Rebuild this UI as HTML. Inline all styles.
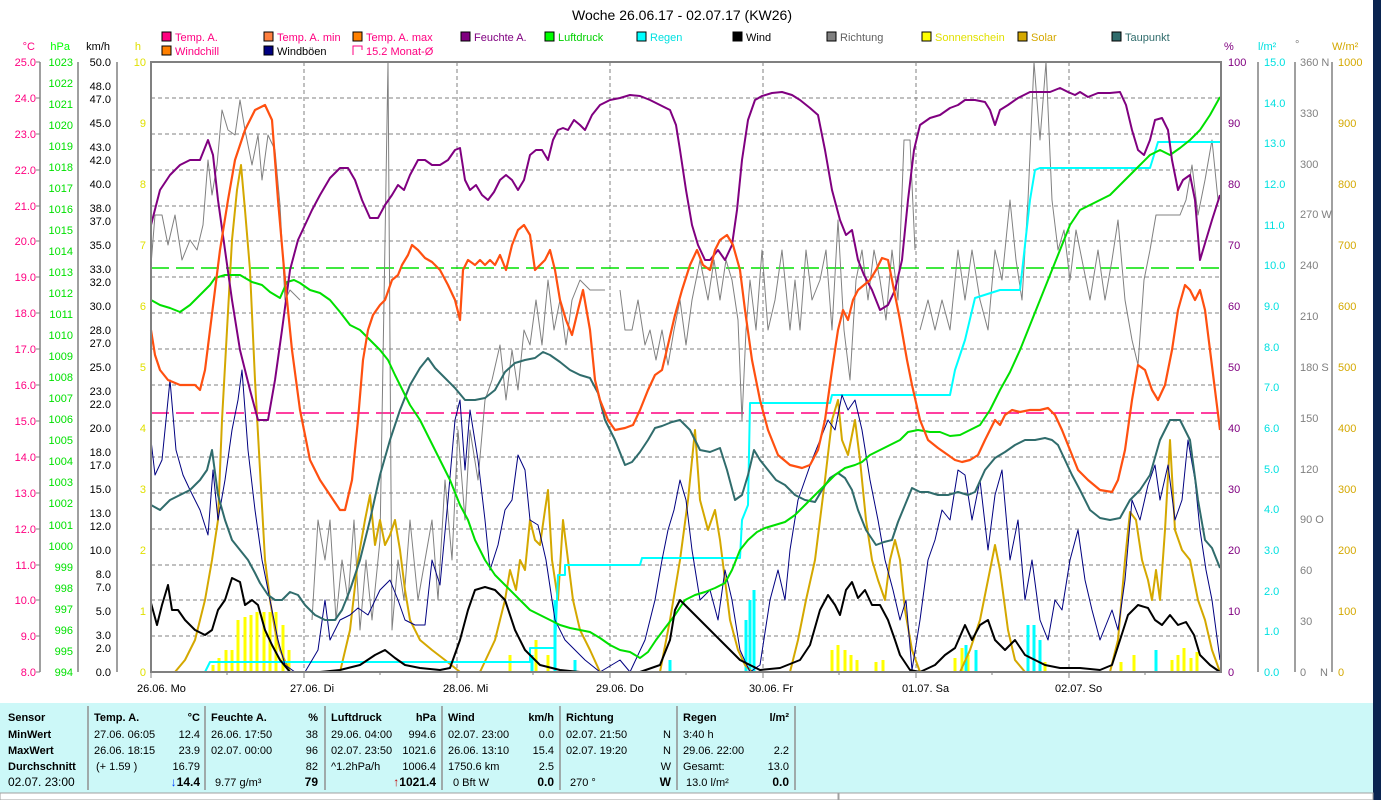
<!DOCTYPE html>
<html><head><meta charset="utf-8"><style>
html,body{margin:0;padding:0;background:#fff;}
svg{display:block;font-family:"Liberation Sans",sans-serif;}
</style></head><body>
<svg width="1381" height="800" viewBox="0 0 1381 800" xmlns="http://www.w3.org/2000/svg">
<rect x="0" y="0" width="1381" height="800" fill="#fff"/>
<rect x="1373" y="0" width="8" height="800" fill="#0a2450"/>
<text x="682" y="20" font-size="14" text-anchor="middle" fill="#000">Woche 26.06.17 - 02.07.17 (KW26)</text>
<g font-size="11">
<rect x="162" y="32" width="9" height="9" fill="#ff0080" stroke="#000"/><text x="175" y="41" fill="#ff0080">Temp. A.</text>
<rect x="264" y="32" width="9" height="9" fill="#ff8040" stroke="#000"/><text x="277" y="41" fill="#ff0080">Temp. A. min</text>
<rect x="353" y="32" width="9" height="9" fill="#ff8000" stroke="#000"/><text x="366" y="41" fill="#ff0080">Temp. A. max</text>
<rect x="461" y="32" width="9" height="9" fill="#800080" stroke="#000"/><text x="474" y="41" fill="#800080">Feuchte A.</text>
<rect x="545" y="32" width="9" height="9" fill="#00ff00" stroke="#000"/><text x="558" y="41" fill="#00d000">Luftdruck</text>
<rect x="637" y="32" width="9" height="9" fill="#00ffff" stroke="#000"/><text x="650" y="41" fill="#00e0e0">Regen</text>
<rect x="733" y="32" width="9" height="9" fill="#000" stroke="#000"/><text x="746" y="41" fill="#000">Wind</text>
<rect x="827" y="32" width="9" height="9" fill="#808080" stroke="#000"/><text x="840" y="41" fill="#606060">Richtung</text>
<rect x="922" y="32" width="9" height="9" fill="#ffff00" stroke="#000"/><text x="935" y="41" fill="#e0e000">Sonnenschein</text>
<rect x="1018" y="32" width="9" height="9" fill="#d4a800" stroke="#000"/><text x="1031" y="41" fill="#d4a800">Solar</text>
<rect x="1112" y="32" width="9" height="9" fill="#306c6c" stroke="#000"/><text x="1125" y="41" fill="#306c6c">Taupunkt</text>
<rect x="162" y="46" width="9" height="9" fill="#ff8000" stroke="#000"/><text x="175" y="55" fill="#ff0080">Windchill</text>
<rect x="264" y="46" width="9" height="9" fill="#000080" stroke="#000"/><text x="277" y="55" fill="#000">Windböen</text>
<path d="M353 55 V46 H362 V50" fill="none" stroke="#ff0080"/><text x="366" y="55" fill="#ff0080">15.2 Monat-Ø</text>
<text x="35" y="50" fill="#ff0080" text-anchor="end">°C</text>
<text x="70" y="50" fill="#00ff00" text-anchor="end">hPa</text>
<text x="110" y="50" fill="#000" text-anchor="end">km/h</text>
<text x="141" y="50" fill="#e0e000" text-anchor="end">h</text>
<text x="1224" y="50" fill="#800080">%</text>
<text x="1258" y="50" fill="#00e0e0">l/m²</text>
<text x="1295" y="48" fill="#808080">°</text>
<text x="1332" y="50" fill="#d4a800">W/m²</text>
</g>
<g stroke="#808080" stroke-dasharray="4,3" stroke-width="1">
<line x1="151" x2="1221" y1="98" y2="98"/><line x1="151" x2="1221" y1="134" y2="134"/><line x1="151" x2="1221" y1="170" y2="170"/><line x1="151" x2="1221" y1="206" y2="206"/><line x1="151" x2="1221" y1="241" y2="241"/><line x1="151" x2="1221" y1="277" y2="277"/><line x1="151" x2="1221" y1="313" y2="313"/><line x1="151" x2="1221" y1="349" y2="349"/><line x1="151" x2="1221" y1="385" y2="385"/><line x1="151" x2="1221" y1="421" y2="421"/><line x1="151" x2="1221" y1="457" y2="457"/><line x1="151" x2="1221" y1="493" y2="493"/><line x1="151" x2="1221" y1="529" y2="529"/><line x1="151" x2="1221" y1="565" y2="565"/><line x1="151" x2="1221" y1="600" y2="600"/><line x1="151" x2="1221" y1="636" y2="636"/>
<line x1="304" x2="304" y1="62" y2="672"/><line x1="457" x2="457" y1="62" y2="672"/><line x1="610" x2="610" y1="62" y2="672"/><line x1="763" x2="763" y1="62" y2="672"/><line x1="916" x2="916" y1="62" y2="672"/><line x1="1069" x2="1069" y1="62" y2="672"/>
</g>
<line x1="151" x2="1221" y1="268" y2="268" stroke="#00e000" stroke-dasharray="18,7" stroke-width="1.5"/>
<line x1="151" x2="1221" y1="413" y2="413" stroke="#ff0080" stroke-dasharray="18,7" stroke-width="1.5"/>
<g stroke="#ffff00" stroke-width="3">
<line x1="213" x2="213" y1="672" y2="665"/><line x1="219" x2="219" y1="672" y2="658"/><line x1="226" x2="226" y1="672" y2="650"/><line x1="232" x2="232" y1="672" y2="650"/><line x1="238" x2="238" y1="672" y2="620"/><line x1="245" x2="245" y1="672" y2="617"/><line x1="251" x2="251" y1="672" y2="615"/><line x1="257" x2="257" y1="672" y2="612"/><line x1="264" x2="264" y1="672" y2="612"/><line x1="270" x2="270" y1="672" y2="612"/><line x1="276" x2="276" y1="672" y2="612"/><line x1="283" x2="283" y1="672" y2="625"/><line x1="289" x2="289" y1="672" y2="650"/>
<line x1="510" x2="510" y1="672" y2="655"/><line x1="536" x2="536" y1="672" y2="640"/><line x1="548" x2="548" y1="672" y2="655"/>
<line x1="832" x2="832" y1="672" y2="650"/><line x1="838" x2="838" y1="672" y2="645"/><line x1="845" x2="845" y1="672" y2="650"/><line x1="851" x2="851" y1="672" y2="655"/><line x1="857" x2="857" y1="672" y2="660"/><line x1="876" x2="876" y1="672" y2="662"/><line x1="883" x2="883" y1="672" y2="660"/>
<line x1="955" x2="955" y1="672" y2="658"/><line x1="962" x2="962" y1="672" y2="648"/><line x1="968" x2="968" y1="672" y2="655"/><line x1="1045" x2="1045" y1="672" y2="662"/>
<line x1="1121" x2="1121" y1="672" y2="662"/><line x1="1134" x2="1134" y1="672" y2="655"/><line x1="1172" x2="1172" y1="672" y2="660"/><line x1="1178" x2="1178" y1="672" y2="655"/><line x1="1184" x2="1184" y1="672" y2="648"/><line x1="1191" x2="1191" y1="672" y2="658"/><line x1="1197" x2="1197" y1="672" y2="652"/>
</g>
<g stroke="#00ffff" stroke-width="3">
<line x1="555" x2="555" y1="672" y2="600"/><line x1="575" x2="575" y1="672" y2="660"/><line x1="532" x2="532" y1="672" y2="655"/><line x1="670" x2="670" y1="672" y2="660"/>
<line x1="746" x2="746" y1="672" y2="620"/><line x1="750" x2="750" y1="672" y2="600"/><line x1="754" x2="754" y1="672" y2="590"/>
<line x1="966" x2="966" y1="672" y2="645"/><line x1="976" x2="976" y1="672" y2="650"/><line x1="1028" x2="1028" y1="672" y2="625"/><line x1="1034" x2="1034" y1="672" y2="625"/><line x1="1040" x2="1040" y1="672" y2="640"/><line x1="1156" x2="1156" y1="672" y2="650"/>
</g>
<g fill="none" stroke-linejoin="round">
<polyline stroke="#808080" stroke-width="1" points="151,265 155,215 162,215 168,245 175,215 182,260 190,240 197,250 203,225 208,160 212,195 217,165 222,110 228,130 235,135 240,100 245,130 252,165 258,135 262,180 268,135 275,150 280,205 285,300 290,290 300,300"/>
<polyline stroke="#808080" stroke-width="1" points="312,620 318,520 325,560 330,520 336,620 342,560 348,600 354,520 360,630 366,560 372,620 380,540 388,62 392,630 398,560 404,600 410,520 418,600 425,560 432,520 438,600 445,480 452,560 458,430 465,520 470,430 478,480 485,400 492,380 500,345 506,400 512,350 518,390 524,330 530,345 536,300 542,345 548,280 554,330 560,300 566,345 572,300 580,280 590,290 605,290"/>
<polyline stroke="#808080" stroke-width="1" points="620,290 625,330 632,330 638,300 645,345 650,330 656,360 662,330 668,365 674,330 680,300 686,345 692,300 700,260 708,300 714,260 720,300 726,260 732,280 738,320 742,420 746,330 750,280 756,330 762,250 768,330 775,300 782,250 790,330 795,280 800,330 806,250 812,300 820,280 826,250 832,330 838,220 844,330 850,380 856,280 862,250 868,300 874,250 880,280 886,320 892,250 898,300 904,140 910,140 915,250"/>
<polyline stroke="#808080" stroke-width="1" points="920,330 928,300 935,330 942,300 950,330 958,250 965,300 972,250 980,300 988,330 995,250 1002,280 1010,200 1016,260 1022,300 1028,200 1034,62 1040,140 1046,62 1052,200 1058,250 1064,230 1070,280 1076,230 1082,260 1090,300 1098,250 1105,300 1112,260 1118,220 1125,300 1132,340 1138,365 1144,280 1150,250 1156,215 1164,215 1172,215 1180,215 1186,200 1192,165 1198,215 1205,180 1212,140 1218,200"/>
<polyline stroke="#d4a800" stroke-width="2" points="151,672 175,672 185,660 195,640 205,600 212,560 218,520 222,420 227,330 232,240 237,190 241,165 245,210 250,270 255,380 260,470 265,560 270,600 275,630 280,650 290,672 340,672 350,630 358,560 365,520 370,495 375,545 380,520 385,545 390,535 395,520 400,550 405,590 410,620 420,640 432,650 445,660 460,672 480,672 495,640 505,600 510,570 516,590 520,560 525,570 530,520 535,540 540,545 545,510 548,490 552,560 558,600 563,520 568,560 573,600 580,630 590,650 600,672 660,672 670,620 680,560 688,500 695,430 700,500 708,530 715,510 720,540 725,580 730,620 738,650 745,665 752,672 790,672 798,640 806,600 815,560 825,480 832,420 838,400 842,440 848,455 855,420 860,460 866,520 872,560 878,580 885,600 890,560 895,540 900,560 905,610 912,650 920,672 960,672 970,650 980,620 990,570 995,545 1000,570 1008,630 1015,660 1025,672 1110,672 1118,640 1125,560 1130,512 1136,520 1142,560 1148,580 1152,600 1156,570 1160,600 1165,530 1170,440 1175,530 1182,550 1190,560 1198,600 1205,620 1212,650 1220,672"/>
<polyline stroke="#00ffff" stroke-width="2" points="151,672 205,672 210,662 530,662 530,648 555,648 558,575 565,575 565,565 640,565 642,558 740,558 742,520 748,505 750,403 830,403 832,395 950,395 955,370 965,340 975,298 1000,290 1020,290 1030,200 1035,170 1040,168 1150,168 1158,142 1220,142"/>
<polyline stroke="#000080" stroke-width="1" points="151,440 155,475 162,460 170,380 176,450 183,475 190,490 200,510 208,535 213,470 218,520 225,480 232,430 238,400 242,370 248,450 255,510 262,560 270,600 278,640 285,665 295,672 305,672 318,650 325,600 330,640 340,620 350,615 358,608 368,615 380,590 390,580 398,600 405,620 415,625 425,625 432,560 440,585 448,500 455,420 460,400 465,470 470,410 478,460 485,520 490,570 498,545 505,510 512,500 518,455 525,470 530,520 538,525 546,560 555,620 565,640 575,650 585,660 600,672 620,660 630,672 645,640 655,600 662,560 668,530 674,510 680,480 686,500 692,550 700,600 710,590 718,620 725,570 732,600 740,650 750,672 760,665 770,600 778,570 785,600 790,550 798,500 805,480 812,460 820,440 828,420 835,430 842,395 848,410 855,400 862,430 870,480 878,520 885,560 893,590 900,620 906,600 912,670 920,620 928,560 935,540 942,510 950,520 958,470 965,475 972,520 980,480 988,550 995,495 1002,470 1010,560 1018,520 1025,600 1032,560 1040,620 1048,640 1055,600 1062,610 1070,560 1078,530 1085,580 1092,610 1100,640 1106,625 1112,610 1118,630 1125,580 1132,500 1140,520 1148,485 1155,465 1160,500 1168,465 1175,520 1182,500 1188,440 1195,480 1200,530 1206,570 1212,600 1220,660"/>
<polyline stroke="#306c6c" stroke-width="2" points="151,505 160,510 170,500 180,495 190,490 200,480 207,470 212,450 218,495 225,520 232,540 240,550 248,560 255,573 260,583 268,595 275,600 282,600 290,592 298,595 305,605 315,615 325,620 335,620 342,610 350,590 360,560 370,520 380,475 390,440 400,410 410,385 420,368 428,358 435,368 445,378 455,388 465,400 475,400 485,398 495,390 505,372 515,363 525,360 535,358 543,352 550,355 560,362 570,370 580,375 590,378 598,393 605,420 615,440 625,465 632,462 640,452 648,440 655,428 662,426 672,422 680,420 690,430 700,450 710,452 720,448 727,470 735,500 742,495 748,475 754,450 760,460 768,470 776,480 785,485 795,495 805,500 815,502 822,490 830,478 838,473 845,478 852,490 858,510 866,530 876,545 884,542 892,540 898,522 905,505 912,488 920,492 928,492 938,495 948,495 958,492 968,495 975,492 985,470 995,458 1005,452 1015,445 1025,440 1035,440 1045,438 1052,440 1058,445 1065,460 1072,475 1080,490 1090,510 1100,518 1110,520 1120,518 1130,500 1140,490 1150,475 1160,440 1170,420 1180,420 1190,440 1198,500 1205,540 1212,548 1220,568"/>
<polyline stroke="#00e000" stroke-width="2" points="151,300 160,305 170,308 180,312 190,305 200,295 210,285 215,278 225,275 240,275 252,282 262,285 270,292 280,298 287,282 294,280 300,283 310,290 320,293 330,300 340,312 350,325 360,330 370,340 380,350 388,360 395,375 400,385 410,405 420,420 430,440 440,460 450,480 460,505 468,520 475,540 485,560 495,575 505,585 520,600 530,610 540,615 550,620 560,625 570,628 580,630 590,632 600,638 610,645 620,650 630,652 640,658 648,652 656,640 665,628 675,615 685,600 695,595 705,592 715,588 725,583 732,570 740,550 748,540 757,532 765,528 775,525 785,522 795,515 805,505 815,495 825,485 835,475 845,468 855,465 862,462 870,455 880,450 890,445 900,440 908,432 918,430 930,432 940,432 950,436 960,435 970,430 980,425 990,410 1000,390 1010,372 1020,350 1030,325 1040,300 1050,275 1060,250 1070,225 1080,210 1090,205 1100,200 1110,195 1120,185 1130,175 1140,165 1150,155 1160,150 1170,155 1180,148 1190,140 1200,130 1210,115 1220,97"/>
<polyline stroke="#000" stroke-width="2" points="151,603 157,625 162,605 168,585 172,610 178,610 185,620 195,630 205,635 212,630 218,610 225,600 232,578 240,582 245,605 252,600 258,605 265,630 272,645 280,660 290,672 300,672 320,672 340,670 360,665 375,655 385,650 395,658 405,665 420,668 440,670 450,668 460,640 468,610 475,590 485,587 495,590 505,600 515,630 525,650 540,665 560,670 580,672 600,672 640,672 660,665 670,640 675,610 680,600 690,610 700,620 710,630 720,640 730,650 740,660 750,665 760,670 780,668 800,660 810,645 820,610 828,595 835,605 840,615 846,590 852,582 858,598 865,590 872,605 880,605 888,620 895,640 900,655 910,670 920,672 935,665 945,655 955,648 965,625 972,640 980,625 988,620 995,640 1005,650 1015,640 1025,655 1035,660 1045,665 1060,668 1080,668 1100,670 1112,665 1120,640 1128,615 1138,605 1148,608 1155,620 1162,625 1170,615 1178,625 1186,622 1194,635 1200,655 1210,665 1220,672"/>
<polyline stroke="#800080" stroke-width="2" points="151,225 160,190 170,175 180,165 190,160 200,160 208,140 213,155 218,200 225,250 232,300 240,350 250,390 258,420 268,420 275,380 282,330 290,270 298,240 305,225 312,210 320,195 330,178 340,168 348,168 355,180 362,200 370,218 378,218 385,205 392,195 398,185 404,190 410,175 418,160 425,160 432,165 440,165 448,160 455,150 460,148 465,180 470,190 476,185 482,195 488,200 494,192 500,180 506,175 512,180 518,190 524,180 530,155 536,150 542,150 548,160 553,140 558,130 563,128 568,130 574,120 580,125 585,130 592,115 600,105 610,100 620,98 630,95 640,96 650,100 660,105 670,110 676,125 680,150 686,190 692,225 698,245 705,260 710,260 718,250 725,260 732,245 737,210 742,160 748,120 755,100 762,96 772,93 782,92 792,95 800,100 810,108 818,115 825,150 832,190 840,220 846,235 852,230 858,260 864,275 872,290 880,310 888,305 895,290 902,260 908,200 914,150 920,125 930,118 940,115 950,108 958,105 965,100 975,100 985,102 990,110 995,125 1000,110 1008,105 1018,98 1030,92 1040,92 1050,92 1060,88 1068,92 1075,95 1080,92 1088,97 1098,93 1110,93 1120,92 1126,105 1132,130 1138,150 1144,155 1150,140 1155,120 1162,118 1168,130 1172,160 1178,190 1183,180 1190,175 1195,200 1200,260 1206,240 1212,220 1220,195"/>
<polyline stroke="#ff5010" stroke-width="2.2" points="151,330 155,355 160,370 168,380 180,385 195,385 200,390 205,370 210,330 215,290 220,250 228,200 235,160 245,130 255,110 265,105 272,120 278,200 285,280 292,350 300,410 310,460 320,480 330,495 340,510 345,510 352,480 358,420 363,360 368,330 373,315 380,305 385,300 392,280 398,275 402,265 408,255 412,245 418,250 425,258 432,262 440,270 448,285 455,300 460,320 463,270 468,260 475,265 480,260 485,265 490,260 495,265 500,255 506,270 512,245 518,230 524,225 530,235 535,270 540,265 545,260 550,250 555,270 560,300 566,320 572,335 578,310 583,290 590,330 595,380 600,400 608,420 615,430 625,428 633,425 640,410 648,390 655,375 662,370 668,345 675,315 682,290 690,265 697,250 703,265 710,270 715,250 720,240 727,235 733,245 740,270 745,310 752,360 760,400 768,430 778,455 790,465 802,468 810,465 818,450 825,420 832,370 838,330 843,310 848,320 853,300 858,290 864,285 870,280 876,270 882,258 888,260 893,285 900,320 907,360 912,385 920,420 928,440 938,448 948,455 955,460 962,462 970,460 978,455 985,440 990,430 995,420 1000,425 1005,415 1012,410 1020,412 1030,410 1040,410 1048,408 1055,415 1062,430 1070,450 1078,470 1088,480 1100,490 1112,492 1118,480 1125,450 1132,400 1138,365 1145,370 1152,390 1158,400 1165,385 1172,350 1178,310 1185,285 1190,290 1195,300 1200,290 1205,310 1210,350 1215,390 1220,430"/>
</g>
<rect x="151" y="62" width="1070" height="610" fill="none" stroke="#808080" stroke-width="2"/>
<g stroke="#808080" stroke-width="1.5">
<line x1="40" x2="40" y1="62" y2="672"/><line x1="78" x2="78" y1="62" y2="672"/><line x1="117" x2="117" y1="62" y2="672"/>
<line x1="1258" x2="1258" y1="62" y2="672"/><line x1="1295" x2="1295" y1="62" y2="672"/><line x1="1332" x2="1332" y1="62" y2="672"/>
</g>
<g font-size="11" fill="#ff0080" text-anchor="end">
<text x="36" y="66">25.0</text><text x="36" y="102">24.0</text><text x="36" y="138">23.0</text><text x="36" y="174">22.0</text><text x="36" y="210">21.0</text><text x="36" y="245">20.0</text><text x="36" y="281">19.0</text><text x="36" y="317">18.0</text><text x="36" y="353">17.0</text><text x="36" y="389">16.0</text><text x="36" y="425">15.0</text><text x="36" y="461">14.0</text><text x="36" y="497">13.0</text><text x="36" y="533">12.0</text><text x="36" y="569">11.0</text><text x="36" y="604">10.0</text><text x="36" y="640">9.0</text><text x="36" y="676">8.0</text>
</g>
<g stroke="#808080"><path d="M40 62h-4M40 98h-4M40 134h-4M40 170h-4M40 206h-4M40 241h-4M40 277h-4M40 313h-4M40 349h-4M40 385h-4M40 421h-4M40 457h-4M40 493h-4M40 529h-4M40 565h-4M40 600h-4M40 636h-4M40 672h-4"/></g>
<g font-size="11" fill="#00e000" text-anchor="end">
<text x="73" y="66">1023</text><text x="73" y="87">1022</text><text x="73" y="108">1021</text><text x="73" y="129">1020</text><text x="73" y="150">1019</text><text x="73" y="171">1018</text><text x="73" y="192">1017</text><text x="73" y="213">1016</text><text x="73" y="234">1015</text><text x="73" y="255">1014</text><text x="73" y="276">1013</text><text x="73" y="297">1012</text><text x="73" y="318">1011</text><text x="73" y="339">1010</text><text x="73" y="360">1009</text><text x="73" y="381">1008</text><text x="73" y="402">1007</text><text x="73" y="423">1006</text><text x="73" y="444">1005</text><text x="73" y="465">1004</text><text x="73" y="486">1003</text><text x="73" y="507">1002</text><text x="73" y="529">1001</text><text x="73" y="550">1000</text><text x="73" y="571">999</text><text x="73" y="592">998</text><text x="73" y="613">997</text><text x="73" y="634">996</text><text x="73" y="655">995</text><text x="73" y="676">994</text>
</g>
<g font-size="11" fill="#000" text-anchor="end">
<text x="111" y="66">50.0</text><text x="111" y="90">48.0</text><text x="111" y="103">47.0</text><text x="111" y="127">45.0</text><text x="111" y="151">43.0</text><text x="111" y="164">42.0</text><text x="111" y="188">40.0</text><text x="111" y="212">38.0</text><text x="111" y="225">37.0</text><text x="111" y="249">35.0</text><text x="111" y="273">33.0</text><text x="111" y="286">32.0</text><text x="111" y="310">30.0</text><text x="111" y="334">28.0</text><text x="111" y="347">27.0</text><text x="111" y="371">25.0</text><text x="111" y="395">23.0</text><text x="111" y="408">22.0</text><text x="111" y="432">20.0</text><text x="111" y="456">18.0</text><text x="111" y="469">17.0</text><text x="111" y="493">15.0</text><text x="111" y="517">13.0</text><text x="111" y="530">12.0</text><text x="111" y="554">10.0</text><text x="111" y="578">8.0</text><text x="111" y="591">7.0</text><text x="111" y="615">5.0</text><text x="111" y="639">3.0</text><text x="111" y="652">2.0</text><text x="111" y="676">0.0</text>
</g>
<g font-size="11" fill="#e0e000" text-anchor="end">
<text x="146" y="66">10</text><text x="146" y="127">9</text><text x="146" y="188">8</text><text x="146" y="249">7</text><text x="146" y="310">6</text><text x="146" y="371">5</text><text x="146" y="432">4</text><text x="146" y="493">3</text><text x="146" y="554">2</text><text x="146" y="615">1</text><text x="146" y="676">0</text>
</g>
<g font-size="11" fill="#800080">
<text x="1228" y="66">100</text><text x="1228" y="127">90</text><text x="1228" y="188">80</text><text x="1228" y="249">70</text><text x="1228" y="310">60</text><text x="1228" y="371">50</text><text x="1228" y="432">40</text><text x="1228" y="493">30</text><text x="1228" y="554">20</text><text x="1228" y="615">10</text><text x="1228" y="676">0</text>
</g>
<g font-size="11" fill="#00e0e0">
<text x="1264" y="66">15.0</text><text x="1264" y="107">14.0</text><text x="1264" y="147">13.0</text><text x="1264" y="188">12.0</text><text x="1264" y="229">11.0</text><text x="1264" y="269">10.0</text><text x="1264" y="310">9.0</text><text x="1264" y="351">8.0</text><text x="1264" y="391">7.0</text><text x="1264" y="432">6.0</text><text x="1264" y="473">5.0</text><text x="1264" y="513">4.0</text><text x="1264" y="554">3.0</text><text x="1264" y="595">2.0</text><text x="1264" y="635">1.0</text><text x="1264" y="676">0.0</text>
</g>
<g font-size="11" fill="#808080">
<text x="1300" y="66">360 N</text><text x="1300" y="117">330</text><text x="1300" y="168">300</text><text x="1300" y="218">270 W</text><text x="1300" y="269">240</text><text x="1300" y="320">210</text><text x="1300" y="371">180 S</text><text x="1300" y="422">150</text><text x="1300" y="473">120</text><text x="1300" y="523">90  O</text><text x="1300" y="574">60</text><text x="1300" y="625">30</text><text x="1300" y="676">0</text><text x="1320" y="676">N</text>
</g>
<g font-size="11" fill="#d4a800">
<text x="1338" y="66">1000</text><text x="1338" y="127">900</text><text x="1338" y="188">800</text><text x="1338" y="249">700</text><text x="1338" y="310">600</text><text x="1338" y="371">500</text><text x="1338" y="432">400</text><text x="1338" y="493">300</text><text x="1338" y="554">200</text><text x="1338" y="615">100</text><text x="1338" y="676">0</text>
</g>
<g stroke="#808080"><path d="M151 672v6M304 672v6M457 672v6M610 672v6M763 672v6M916 672v6M1069 672v6M227 672v3M380 672v3M533 672v3M686 672v3M839 672v3M992 672v3M1145 672v3"/></g>
<g font-size="11" fill="#000">
<text x="137" y="692">26.06.  Mo</text><text x="290" y="692">27.06.  Di</text><text x="443" y="692">28.06.  Mi</text><text x="596" y="692">29.06.  Do</text><text x="749" y="692">30.06.  Fr</text><text x="902" y="692">01.07.  Sa</text><text x="1055" y="692">02.07.  So</text>
</g>
<rect x="0" y="703" width="1373" height="90" fill="#ccf8f8"/>
<g stroke="#909090" stroke-width="1.5">
<line x1="88" x2="88" y1="706" y2="790"/><line x1="205" x2="205" y1="706" y2="790"/><line x1="325" x2="325" y1="706" y2="790"/><line x1="442" x2="442" y1="706" y2="790"/><line x1="560" x2="560" y1="706" y2="790"/><line x1="677" x2="677" y1="706" y2="790"/><line x1="795" x2="795" y1="706" y2="790"/>
</g>
<rect x="0" y="793" width="838" height="7" fill="#fff" stroke="#a0a0a0"/><rect x="839" y="793" width="534" height="7" fill="#fff" stroke="#a0a0a0"/>
<g font-size="11" fill="#000">
<g font-weight="bold"><text x="8" y="721">Sensor</text><text x="8" y="738">MinWert</text><text x="8" y="754">MaxWert</text><text x="8" y="770">Durchschnitt</text></g>
<text x="8" y="786" font-size="12">02.07. 23:00</text>
<g font-weight="bold"><text x="94" y="721">Temp. A.</text><text x="200" y="721" text-anchor="end">°C</text></g>
<text x="94" y="738">27.06.  06:05</text><text x="200" y="738" text-anchor="end">12.4</text>
<text x="94" y="754">26.06.  18:15</text><text x="200" y="754" text-anchor="end">23.9</text>
<text x="96" y="770">(+ 1.59 )</text><text x="200" y="770" text-anchor="end">16.79</text>
<text x="200" y="786" text-anchor="end" font-weight="bold" font-size="12"><tspan fill="#0040ff">↓</tspan>14.4</text>
<g font-weight="bold"><text x="211" y="721">Feuchte A.</text><text x="318" y="721" text-anchor="end">%</text></g>
<text x="211" y="738">26.06.  17:50</text><text x="318" y="738" text-anchor="end">38</text>
<text x="211" y="754">02.07.  00:00</text><text x="318" y="754" text-anchor="end">96</text>
<text x="318" y="770" text-anchor="end">82</text>
<text x="215" y="786">9.77 g/m³</text><text x="318" y="786" text-anchor="end" font-weight="bold" font-size="12">79</text>
<g font-weight="bold"><text x="331" y="721">Luftdruck</text><text x="436" y="721" text-anchor="end">hPa</text></g>
<text x="331" y="738">29.06.  04:00</text><text x="436" y="738" text-anchor="end">994.6</text>
<text x="331" y="754">02.07.  23:50</text><text x="436" y="754" text-anchor="end">1021.6</text>
<text x="331" y="770">^1.2hPa/h</text><text x="436" y="770" text-anchor="end">1006.4</text>
<text x="436" y="786" text-anchor="end" font-weight="bold" font-size="12"><tspan fill="#c00000">↑</tspan>1021.4</text>
<g font-weight="bold"><text x="448" y="721">Wind</text><text x="554" y="721" text-anchor="end">km/h</text></g>
<text x="448" y="738">02.07.  23:00</text><text x="554" y="738" text-anchor="end">0.0</text>
<text x="448" y="754">26.06.  13:10</text><text x="554" y="754" text-anchor="end">15.4</text>
<text x="448" y="770">1750.6 km</text><text x="554" y="770" text-anchor="end">2.5</text>
<text x="453" y="786">0 Bft W</text><text x="554" y="786" text-anchor="end" font-weight="bold" font-size="12">0.0</text>
<g font-weight="bold"><text x="566" y="721">Richtung</text></g>
<text x="566" y="738">02.07.  21:50</text><text x="671" y="738" text-anchor="end">N</text>
<text x="566" y="754">02.07.  19:20</text><text x="671" y="754" text-anchor="end">N</text>
<text x="671" y="770" text-anchor="end">W</text>
<text x="570" y="786">270 °</text><text x="671" y="786" text-anchor="end" font-weight="bold" font-size="12">W</text>
<g font-weight="bold"><text x="683" y="721">Regen</text><text x="789" y="721" text-anchor="end">l/m²</text></g>
<text x="683" y="738">3:40 h</text>
<text x="683" y="754">29.06.  22:00</text><text x="789" y="754" text-anchor="end">2.2</text>
<text x="683" y="770">Gesamt:</text><text x="789" y="770" text-anchor="end">13.0</text>
<text x="686" y="786">13.0 l/m²</text><text x="789" y="786" text-anchor="end" font-weight="bold" font-size="12">0.0</text>
</g>
</svg>
</body></html>
